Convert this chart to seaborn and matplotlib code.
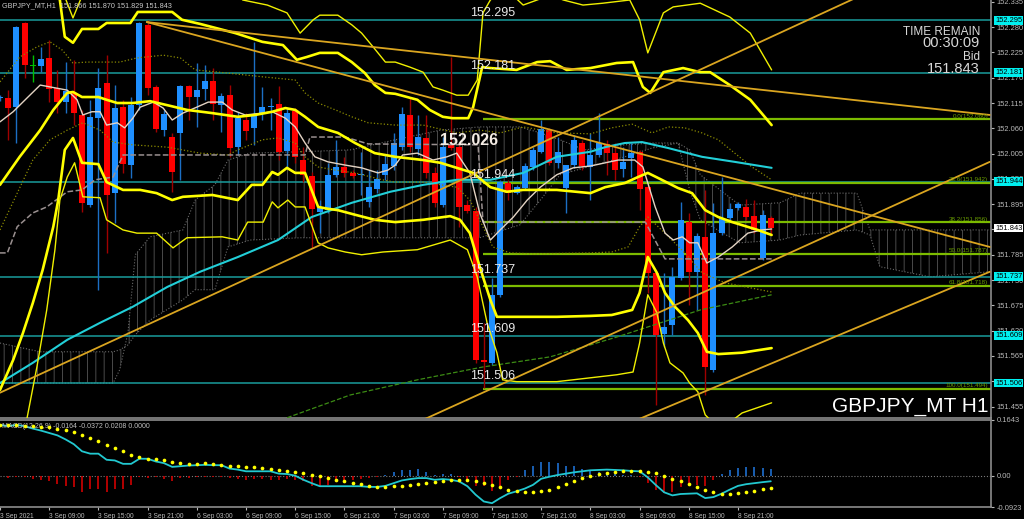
import numpy as np
import matplotlib
matplotlib.use("Agg")
import matplotlib.pyplot as plt
import matplotlib.transforms as mtrans
import seaborn as sns

# %% data ---------------------------------------------------------------
# H1 candles, bar 0 = 3 Sep 03:00 ... bar 94 = 9 Sep 01:00
bar_open = [152.126, 152.126, 152.106, 152.289, 152.196, 152.196, 152.213, 152.148, 152.117, 152.137,
            152.089, 151.893, 152.082, 152.159, 151.919, 152.106, 151.980, 152.111, 152.285, 152.150,
            152.056, 152.041, 152.050, 152.152, 152.128, 152.146, 152.163, 152.111, 152.132, 152.019,
            152.078, 152.061, 152.093, 152.106, 152.113, 152.011, 152.098, 151.991, 151.956, 151.878,
            151.882, 151.959, 151.976, 151.963, 151.959, 151.900, 151.928, 151.959, 151.978, 152.019,
            152.089, 152.015, 152.039, 151.963, 151.893, 152.024, 152.019, 151.893, 151.880, 151.556,
            151.550, 151.698, 151.941, 151.919, 151.930, 151.976, 152.009, 152.056, 151.985, 151.930,
            151.980, 152.028, 151.976, 152.002, 152.026, 152.006, 151.972, 151.996, 152.009, 151.932,
            151.746, 151.613, 151.632, 151.735, 151.856, 151.748, 151.824, 151.535, 151.832, 151.865,
            151.887, 151.889, 151.869, 151.778, 151.866]
bar_high = [152.132, 152.143, 152.282, 152.291, 152.219, 152.237, 152.252, 152.187, 152.204, 152.209,
            152.100, 152.122, 152.191, 152.219, 152.154, 152.122, 152.128, 152.291, 152.296, 152.154,
            152.100, 152.050, 152.154, 152.154, 152.202, 152.198, 152.191, 152.137, 152.154, 152.096,
            152.093, 152.248, 152.150, 152.126, 152.152, 152.104, 152.104, 152.019, 151.965, 151.904,
            151.985, 152.035, 151.998, 151.969, 152.009, 151.969, 151.969, 152.002, 152.050, 152.106,
            152.128, 152.089, 152.089, 151.976, 152.041, 152.215, 152.028, 151.904, 151.889, 151.637,
            151.735, 151.948, 151.948, 151.937, 151.985, 152.019, 152.078, 152.061, 152.041, 151.980,
            152.046, 152.035, 152.050, 152.093, 152.035, 152.028, 152.019, 152.028, 152.013, 151.937,
            151.748, 151.746, 151.759, 151.900, 151.876, 151.832, 151.926, 151.898, 151.954, 151.898,
            151.900, 151.906, 151.904, 151.882, 151.870]
bar_low = [152.120, 152.035, 152.028, 152.169, 152.161, 152.182, 152.117, 152.093, 152.093, 152.067,
           151.878, 151.889, 151.709, 151.789, 151.854, 151.963, 151.952, 152.100, 152.132, 152.052,
           152.043, 151.922, 151.948, 152.078, 152.063, 152.122, 152.078, 152.052, 151.998, 152.002,
           152.035, 152.024, 152.078, 152.056, 151.991, 151.976, 151.985, 151.943, 151.800, 151.832,
           151.876, 151.954, 151.954, 151.952, 151.915, 151.889, 151.919, 151.948, 151.969, 152.013,
           152.009, 152.002, 151.952, 151.889, 151.889, 152.013, 151.846, 151.876, 151.550, 151.496,
           151.546, 151.693, 151.904, 151.917, 151.926, 151.969, 152.006, 151.980, 151.974, 151.876,
           151.974, 151.969, 151.904, 151.998, 151.959, 151.948, 151.954, 151.954, 151.882, 151.702,
           151.459, 151.585, 151.611, 151.730, 151.676, 151.665, 151.480, 151.530, 151.828, 151.861,
           151.882, 151.861, 151.832, 151.774, 151.829]
bar_close = [152.128, 152.104, 152.280, 152.198, 152.196, 152.211, 152.146, 152.117, 152.141, 152.093,
             151.898, 152.085, 152.148, 151.915, 152.104, 151.982, 152.111, 152.289, 152.148, 152.059,
             152.091, 151.965, 152.152, 152.128, 152.143, 152.163, 152.113, 152.130, 152.017, 152.082,
             152.054, 152.089, 152.106, 152.109, 152.009, 152.093, 151.998, 151.959, 151.885, 151.887,
             151.959, 151.976, 151.963, 151.956, 151.961, 151.932, 151.950, 151.982, 152.028, 152.091,
             152.019, 152.041, 151.963, 151.898, 152.019, 152.017, 151.889, 151.880, 151.556, 151.552,
             151.698, 151.943, 151.919, 151.932, 151.978, 152.013, 152.059, 151.985, 152.009, 151.980,
             152.035, 151.978, 152.002, 152.028, 152.006, 151.969, 151.987, 152.006, 151.928, 151.746,
             151.611, 151.628, 151.737, 151.861, 151.748, 151.826, 151.541, 151.832, 151.865, 151.885,
             151.896, 151.867, 151.839, 151.872, 151.843]

time_ticks = [0, 6, 12, 18, 24, 30, 36, 42, 48, 54, 60, 66, 72, 78, 84, 90]
time_labels = ["3 Sep 2021", "3 Sep 09:00", "3 Sep 15:00", "3 Sep 21:00", "6 Sep 03:00", "6 Sep 09:00",
               "6 Sep 15:00", "6 Sep 21:00", "7 Sep 03:00", "7 Sep 09:00", "7 Sep 15:00", "7 Sep 21:00",
               "8 Sep 03:00", "8 Sep 09:00", "8 Sep 15:00", "8 Sep 21:00"]
price_ticks = [152.335, 152.280, 152.225, 152.170, 152.115, 152.060, 152.005, 151.950, 151.895,
               151.840, 151.785, 151.730, 151.675, 151.620, 151.565, 151.510, 151.455]

# bollinger bands (read as polylines: bar position, price)
bb3_up_x = [6.7, 7.9, 8.9, 9.8, 11.0, 19.5, 28.0, 29.6, 32.6, 35.0, 36.6, 38.2, 39.0, 41.2, 42.9,
            44.1, 45.5, 47.0, 48.2, 50.0, 51.6, 52.8, 54.0, 55.7, 57.1, 58.2, 58.9, 59.8, 61.6, 63.8,
            65.5, 67.1, 68.7, 71.1, 73.5, 76.8, 78.0, 79.0, 80.9, 82.1, 85.4, 89.0, 91.5, 94.1]
bb3_up_y = [152.383, 152.346, 152.300, 152.339, 152.393, 152.426, 152.372, 152.339, 152.328, 152.311,
            152.267, 152.296, 152.306, 152.306, 152.285, 152.267, 152.237, 152.204, 152.204, 152.193,
            152.182, 152.150, 152.143, 152.132, 152.132, 152.165, 152.311, 152.339, 152.365, 152.328,
            152.339, 152.350, 152.339, 152.328, 152.332, 152.339, 152.296, 152.224, 152.311, 152.324,
            152.332, 152.302, 152.267, 152.187]
bb2_up_x = [6.1, 7.3, 7.9, 8.9, 10.0, 12.0, 13.0, 15.9, 16.8, 21.0, 22.2, 24.4, 28.7, 32.0, 34.5,
            36.2, 37.4, 39.0, 41.2, 42.9, 44.5, 45.7, 47.0, 48.2, 50.9, 52.4, 54.0, 55.2, 57.1, 57.7,
            58.8, 59.8, 63.0, 65.5, 67.1, 69.1, 72.0, 75.2, 77.2, 78.4, 79.3, 80.9, 83.3, 85.4, 86.6,
            89.0, 91.5, 94.1]
bb2_up_y = [152.383, 152.339, 152.259, 152.246, 152.276, 152.276, 152.289, 152.289, 152.313, 152.313,
            152.296, 152.287, 152.267, 152.248, 152.241, 152.209, 152.215, 152.224, 152.224, 152.204,
            152.180, 152.154, 152.137, 152.135, 152.122, 152.100, 152.085, 152.082, 152.082, 152.106,
            152.193, 152.191, 152.187, 152.204, 152.206, 152.187, 152.191, 152.202, 152.204, 152.150,
            152.137, 152.182, 152.191, 152.182, 152.182, 152.154, 152.122, 152.067]
bb_mid_x = [0, 2.4, 4.9, 6.5, 8.2, 8.9, 10.0, 12.0, 13.0, 14.3, 16.2, 18.3, 20.7, 22.8, 25.9, 29.0,
            31.1, 33.2, 34.8, 36.0, 37.2, 38.8, 41.2, 43.3, 45.7, 48.2, 51.6, 53.7, 55.7, 57.7, 59.8,
            61.8, 63.8, 67.9, 72.0, 73.8, 76.2, 77.8, 79.0, 80.7, 82.7, 84.4, 86.0, 87.6, 89.3, 92.4, 94.1]
bb_mid_y = [151.937, 151.998, 152.056, 152.100, 152.137, 152.139, 152.128, 152.128, 152.122, 152.115,
            152.115, 152.119, 152.109, 152.100, 152.093, 152.085, 152.089, 152.096, 152.104, 152.100,
            152.085, 152.063, 152.050, 152.028, 152.006, 151.998, 151.991, 151.985, 151.974, 151.963,
            151.932, 151.922, 151.926, 151.926, 151.919, 151.932, 151.941, 151.954, 151.963, 151.948,
            151.930, 151.919, 151.882, 151.867, 151.856, 151.839, 151.828]
bb2_dn_x = [0, 1.6, 2.8, 4.0, 5.2, 6.5, 7.1, 7.9, 8.9, 10.0, 12.0, 13.0, 15.0, 17.1, 19.1, 21.0,
            22.3, 25.9, 29.0, 30.7, 32.0, 33.2, 33.9, 35.0, 36.0, 37.2, 38.8, 40.0, 41.2, 43.3, 45.7,
            48.2, 51.6, 54.9, 56.1, 57.3, 58.5, 59.8, 60.6, 63.8, 67.9, 72.0, 74.6, 77.1, 78.0, 79.0,
            80.1, 81.1, 82.3, 83.9, 85.1, 86.2, 87.6, 90.5, 94.1]
bb2_dn_y = [151.491, 151.556, 151.615, 151.680, 151.752, 151.846, 151.904, 152.013, 152.039, 151.985,
            151.982, 151.943, 151.926, 151.926, 151.919, 151.904, 151.911, 151.915, 151.904, 151.937,
            151.937, 151.965, 151.959, 151.974, 151.963, 151.963, 151.889, 151.885, 151.882, 151.872,
            151.861, 151.856, 151.861, 151.869, 151.861, 151.832, 151.759, 151.687, 151.650, 151.650,
            151.650, 151.652, 151.654, 151.665, 151.702, 151.780, 151.746, 151.702, 151.672, 151.643,
            151.615, 151.574, 151.569, 151.572, 151.582]
bb3_dn_x = [3.3, 4.5, 5.7, 6.7, 7.3, 8.2, 9.1, 10.1, 12.2, 13.0, 15.0, 16.7, 19.1, 21.1, 22.8, 27.1,
            29.0, 30.2, 32.1, 33.2, 33.9, 35.1, 36.0, 37.2, 38.8, 40.0, 42.1, 44.1, 46.7, 50.9, 54.9,
            57.0, 58.2, 59.4, 60.6, 61.3, 63.0, 67.9, 75.2, 77.2, 78.0, 79.0, 80.1, 80.9, 81.7, 83.3,
            84.1, 85.1, 86.0, 87.8, 90.5, 94.1]
bb3_dn_y = [151.430, 151.541, 151.665, 151.796, 151.904, 151.954, 151.985, 151.911, 151.909, 151.861,
            151.839, 151.832, 151.832, 151.800, 151.822, 151.824, 151.817, 151.856, 151.856, 151.900,
            151.887, 151.904, 151.889, 151.889, 151.811, 151.800, 151.791, 151.785, 151.791, 151.796,
            151.817, 151.796, 151.737, 151.637, 151.572, 151.513, 151.509, 151.509, 151.524, 151.530,
            151.593, 151.698, 151.659, 151.593, 151.550, 151.528, 151.506, 151.487, 151.437, 151.404,
            151.441, 151.463]

# moving averages
ma_fast_x = [0, 1.6, 3.3, 4.9, 6.1, 8.2, 9.4, 10.1, 11.2, 12.2, 13.0, 14.3, 15.2, 16.2, 17.1, 18.7,
             19.9, 21.0, 22.3, 24.0, 25.4, 27.1, 28.3, 29.9, 32.0, 33.2, 34.8, 36.0, 37.2, 38.4, 40.0,
             42.1, 44.1, 46.1, 47.3, 48.2, 49.1, 50.9, 52.8, 54.5, 55.7, 57.3, 58.5, 59.8, 61.0, 62.6,
             64.3, 65.9, 67.9, 69.9, 72.0, 75.4, 77.4, 78.4, 79.9, 81.1, 82.1, 83.2, 84.1, 85.1, 86.2,
             87.6, 89.3, 91.2, 92.9, 94.1]
ma_fast_y = [152.074, 152.096, 152.126, 152.154, 152.150, 152.143, 152.122, 152.089, 152.096, 152.096,
             152.067, 152.072, 152.061, 152.082, 152.106, 152.117, 152.104, 152.078, 152.093, 152.106,
             152.117, 152.117, 152.100, 152.089, 152.093, 152.096, 152.082, 152.063, 152.028, 151.998,
             151.987, 151.980, 151.974, 151.963, 151.969, 151.980, 152.002, 152.006, 151.991, 151.998,
             152.006, 151.963, 151.876, 151.817, 151.839, 151.867, 151.904, 151.932, 151.959, 151.974,
             151.978, 151.991, 151.991, 151.976, 151.889, 151.832, 151.817, 151.824, 151.811, 151.811,
             151.767, 151.780, 151.802, 151.832, 151.839, 151.841]
ma_slow_x = [0, 4.0, 8.2, 12.2, 16.2, 20.4, 24.4, 29.0, 33.9, 38.0, 42.9, 47.6, 51.6, 55.7, 59.8,
             63.8, 67.9, 72.0, 73.8, 76.2, 78.3, 81.5, 85.6, 89.6, 94.1]
ma_slow_y = [151.506, 151.550, 151.600, 151.637, 151.672, 151.715, 151.748, 151.780, 151.817, 151.867,
             151.898, 151.922, 151.937, 151.948, 151.948, 151.963, 151.998, 152.009, 152.019, 152.028,
             152.030, 152.017, 151.998, 151.987, 151.974]
ma_long_x = [24.4, 36.0, 42.7, 50.9, 58.9, 67.1, 75.2, 85.4, 94.1]
ma_long_y = [151.361, 151.437, 151.480, 151.513, 151.541, 151.563, 151.606, 151.665, 151.698]

# envelopes (dotted olive)
env_up_x = [0, 2.4, 4.5, 6.1, 7.6, 8.9, 10.6, 14.6, 16.7, 19.9, 22.0, 23.8, 27.8, 32.0, 36.0, 37.2,
            38.8, 40.9, 42.9, 44.9, 48.2, 51.6, 55.7, 58.5, 61.0, 63.8, 67.9, 72.0, 74.6, 77.1, 79.5,
            81.5, 83.5, 85.6, 87.6, 89.6, 91.7, 94.1]
env_up_y = [152.161, 152.215, 152.237, 152.248, 152.230, 152.202, 152.204, 152.204, 152.213, 152.219,
            152.213, 152.187, 152.180, 152.172, 152.165, 152.137, 152.115, 152.100, 152.085, 152.072,
            152.067, 152.067, 152.050, 152.056, 152.050, 152.063, 152.050, 152.048, 152.061, 152.069,
            152.050, 152.063, 152.061, 152.050, 152.035, 152.006, 151.976, 151.948]
env_dn_x = [0, 2.1, 4.0, 6.1, 8.2, 10.1, 12.2, 13.8, 16.2, 20.4, 24.4, 27.8, 29.0, 32.0, 33.9, 36.0,
            37.2, 38.8, 40.9, 43.3, 46.6, 48.2, 51.6, 55.7, 57.3, 58.9, 60.1, 62.2, 65.0, 72.0, 74.6,
            76.6, 78.0, 79.0, 81.1, 83.5, 85.6, 88.4, 94.1]
env_dn_y = [151.839, 151.919, 151.991, 152.035, 152.056, 152.072, 152.056, 152.030, 152.024, 152.019,
            152.006, 152.002, 152.013, 152.035, 152.039, 152.028, 151.998, 151.976, 151.969, 151.963,
            151.948, 151.943, 151.943, 151.932, 151.904, 151.846, 151.802, 151.789, 151.787, 151.789,
            151.791, 151.802, 151.846, 151.867, 151.832, 151.789, 151.746, 151.724, 151.704]

# ichimoku kijun + cloud
kijun_x = [0, 0.9, 2.1, 4.0, 5.7, 8.2, 10.0, 11.6, 13.8, 15.0, 37.2, 37.8, 42.1, 44.9, 58.3, 58.9,
           78.7, 81.1, 94.1]
kijun_y = [151.789, 151.789, 151.846, 151.876, 151.889, 151.922, 151.926, 151.948, 151.954, 152.002,
           152.002, 152.041, 152.041, 152.026, 152.024, 151.856, 151.856, 151.776, 151.776]
cloud_x = [0, 4.9, 13.8, 14.6, 15.6, 16.5, 18.3, 22.3, 23.8, 26.2, 27.8, 30.5, 36.6, 42.7, 48.2, 53.7,
           58.5, 63.4, 65.9, 68.3, 71.3, 76.2, 79.5, 82.7, 84.1, 85.4, 90.2, 95.1, 97.6, 104.5, 106.1,
           107.3, 113.4, 120.7]
span_a = [151.506, 151.506, 151.506, 151.535, 151.615, 151.785, 151.824, 151.839, 151.904, 151.937,
          151.991, 152.006, 152.009, 152.013, 152.035, 152.056, 152.063, 152.063, 152.050, 152.035,
          152.013, 152.024, 152.028, 152.028, 152.013, 151.959, 151.893, 151.898, 151.919, 151.919,
          151.839, 151.839, 151.839, 151.839]
span_b = [151.593, 151.574, 151.574, 151.578, 151.589, 151.611, 151.643, 151.687, 151.709, 151.709,
          151.802, 151.817, 151.822, 151.822, 151.822, 151.822, 151.822, 151.850, 151.904, 151.959,
          151.974, 151.998, 152.017, 152.028, 151.926, 151.861, 151.811, 151.817, 151.828, 151.839,
          151.828, 151.759, 151.737, 151.748]

# drawn objects
trend_lines = [([17.9, 120.7], [152.291, 152.089]),
               ([17.9, 120.7], [152.291, 151.802]),
               ([0.0, 120.7], [151.485, 152.478]),
               ([51.6, 120.7], [151.426, 151.987]),
               ([77.7, 120.7], [151.426, 151.748])]
levels = [152.295, 152.181, 151.944, 151.737, 151.609, 151.506]
fib_prices = [152.080, 151.942, 151.856, 151.787, 151.718, 151.494]
fib_labels = ["0.0(152.080)", "23.6(151.942)", "38.2(151.856)", "50.0(151.787)",
              "61.8(151.718)", "100.0(151.494)"]
fib_start = 58.9
bid = 151.843

# MACD(12,26,9)
macd_main = [0.150, 0.146, 0.150, 0.146, 0.139, 0.133, 0.126, 0.119, 0.107, 0.093,
             0.072, 0.065, 0.065, 0.047, 0.045, 0.035, 0.035, 0.050, 0.050, 0.042,
             0.037, 0.026, 0.028, 0.030, 0.031, 0.032, 0.031, 0.031, 0.021, 0.018,
             0.013, 0.013, 0.013, 0.013, 0.006, 0.005, 0.000, -0.012, -0.022, -0.031,
             -0.031, -0.031, -0.031, -0.031, -0.031, -0.033, -0.033, -0.030, -0.022, -0.014,
             -0.010, -0.007, -0.007, -0.012, -0.010, -0.012, -0.017, -0.031, -0.056, -0.076,
             -0.081, -0.066, -0.053, -0.046, -0.038, -0.027, -0.009, -0.003, 0.002, 0.006,
             0.010, 0.013, 0.016, 0.017, 0.018, 0.017, 0.016, 0.014, 0.013, -0.005,
             -0.028, -0.049, -0.058, -0.054, -0.053, -0.052, -0.066, -0.063, -0.053, -0.041,
             -0.030, -0.025, -0.022, -0.019, -0.0164]
macd_signal = [0.150, 0.150, 0.150, 0.147, 0.146, 0.144, 0.143, 0.139, 0.134, 0.129,
               0.121, 0.111, 0.103, 0.091, 0.083, 0.072, 0.062, 0.055, 0.050, 0.048,
               0.045, 0.040, 0.038, 0.036, 0.036, 0.037, 0.034, 0.032, 0.030, 0.029,
               0.027, 0.025, 0.023, 0.021, 0.018, 0.015, 0.011, 0.007, 0.001, -0.002,
               -0.007, -0.012, -0.017, -0.022, -0.025, -0.029, -0.032, -0.032, -0.030, -0.029,
               -0.027, -0.024, -0.022, -0.019, -0.017, -0.014, -0.012, -0.014, -0.017, -0.022,
               -0.028, -0.034, -0.041, -0.046, -0.048, -0.049, -0.046, -0.042, -0.033, -0.024,
               -0.016, -0.008, -0.002, 0.005, 0.008, 0.011, 0.013, 0.015, 0.015, 0.011,
               0.007, 0.000, -0.009, -0.017, -0.025, -0.032, -0.041, -0.049, -0.054, -0.054,
               -0.051, -0.047, -0.044, -0.039, -0.0372]
macd_hist = [-0.002, -0.007, -0.005, -0.005, -0.009, -0.012, -0.017, -0.025, -0.031, -0.034,
             -0.048, -0.038, -0.038, -0.048, -0.038, -0.038, -0.028, -0.005, -0.007, -0.005,
             -0.009, -0.015, -0.007, -0.007, -0.005, -0.003, -0.003, -0.003, -0.007, -0.009,
             -0.013, -0.011, -0.009, -0.013, -0.013, -0.009, -0.012, -0.017, -0.031, -0.031,
             -0.027, -0.017, -0.012, -0.013, -0.009, -0.007, -0.003, 0.003, 0.011, 0.018,
             0.018, 0.020, 0.011, 0.003, 0.005, 0.005, -0.005, -0.009, -0.031, -0.031,
             -0.046, -0.031, -0.012, -0.003, 0.016, 0.029, 0.040, 0.040, 0.037, 0.030,
             0.028, 0.021, 0.015, 0.011, 0.008, 0.005, 0.003, 0.001, -0.005, -0.022,
             -0.041, -0.051, -0.048, -0.034, -0.031, -0.027, -0.029, -0.012, 0.005, 0.016,
             0.023, 0.025, 0.025, 0.023, 0.0208]

# %% style ---------------------------------------------------------------
sns.set_theme(style="dark", rc={"axes.facecolor": "black", "figure.facecolor": "black",
                                "axes.grid": False, "axes.edgecolor": "#8c8c8c"})
plt.rcParams["font.family"] = ["Liberation Sans", "DejaVu Sans"]
plt.rcParams["hatch.linewidth"] = 0.7

fig = plt.figure(figsize=(10.24, 5.19), dpi=100)
ax = fig.add_axes([0, (519 - 418) / 519, 991 / 1024, 418 / 519])
ax2 = fig.add_axes([0, 12 / 519, 991 / 1024, 87 / 519])
XMAX = 991 / 8.2


def line(a, xs, ys, color, lw=1.0, ls="-", z=5):
    sns.lineplot(x=xs, y=ys, ax=a, color=color, linewidth=lw, linestyle=ls,
                 estimator=None, sort=False, legend=False, zorder=z)


# %% main panel ----------------------------------------------------------
# ichimoku cloud
ax.fill_between(cloud_x, span_a, span_b, facecolor="none", hatch="||",
                edgecolor="#4a4a4a", linewidth=0, zorder=1)
line(ax, cloud_x, span_a, "#6a6a6a", 0.8, ":", 1)
line(ax, cloud_x, span_b, "#6a6a6a", 0.8, ":", 1)

# horizontal price levels
for lv in levels:
    ax.axhline(lv, color="#1a9c9c", lw=1.1, zorder=2)
for fp in fib_prices:
    ax.hlines(fp, fib_start, XMAX, color="#7cbb00", lw=1.6, zorder=2)

# candles
o = np.array(bar_open); h = np.array(bar_high); l = np.array(bar_low); c = np.array(bar_close)
idx = np.arange(len(o))
body_col = np.where(c > o, "#1e8fff", np.where(c < o, "#ff0000", "#00c000"))
wick_col = np.where(c > o, "#1c6fc4", np.where(c < o, "#a00000", "#00c000"))
ax.vlines(idx, l, h, colors=wick_col, lw=1.0, zorder=3)
ax.bar(idx, np.maximum(np.abs(c - o), 0.0015), bottom=np.minimum(o, c), width=0.72,
       color=body_col, linewidth=0, zorder=4)

# indicators
line(ax, env_up_x, env_up_y, "#8a8a00", 0.9, ":", 5)
line(ax, env_dn_x, env_dn_y, "#8a8a00", 0.9, ":", 5)
line(ax, ma_long_x, ma_long_y, "#3c8c14", 0.9, "--", 5)
line(ax, kijun_x, kijun_y, "#9a9090", 1.1, "--", 5)
line(ax, ma_slow_x, ma_slow_y, "#22cfd8", 1.5, "-", 6)
line(ax, ma_fast_x, ma_fast_y, "#e4d4c4", 1.0, "-", 6)
line(ax, bb3_up_x, bb3_up_y, "#f0f000", 1.0, "-", 6)
line(ax, bb3_dn_x, bb3_dn_y, "#f0f000", 1.0, "-", 6)
line(ax, bb2_up_x, bb2_up_y, "#ffff00", 1.9, "-", 6)
line(ax, bb2_dn_x, bb2_dn_y, "#ffff00", 1.9, "-", 6)
line(ax, bb_mid_x, bb_mid_y, "#ffff00", 1.9, "-", 6)
for tx, ty in trend_lines:
    line(ax, tx, ty, "#daa520", 1.3, "-", 7)

# level text
for lv in levels:
    ax.text(57.3, lv + 0.0155, f"{lv:.3f}", color="#e8e8e8", fontsize=9, ha="left",
            va="center", zorder=9)
ax.text(53.6, 152.026 + 0.007, "152.026", color="#f4ece4", fontsize=11.5, fontweight="bold",
        ha="left", va="center", zorder=9)
for fp, fl in zip(fib_prices, fib_labels):
    ax.text(120.5, fp + 0.0065, fl, color="#6a9e00", fontsize=4.5, ha="right", va="center", zorder=9)

ax.set_xlim(0, XMAX)
ax.set_ylim(151.430, 152.339)
ax.set_xticks([])
ax.yaxis.tick_right()
ax.set_yticks(price_ticks)
# 151.840 sits completely under the bid box, so its label is left blank
ax.set_yticklabels(["" if abs(t - 151.840) < 1e-6 else f"{t:.3f}" for t in price_ticks])
ax.tick_params(axis="y", colors="#b8b8b8", labelsize=5.4, length=2.5, pad=1.5, right=True, width=0.8)
for s in ["top", "left"]:
    ax.spines[s].set_visible(False)
for s in ["right", "bottom"]:
    ax.spines[s].set_color("#8c8c8c")
    ax.spines[s].set_linewidth(1.2)

trans = mtrans.blended_transform_factory(ax.transAxes, ax.transData)
for lv in levels:
    ax.text(1.004, lv, f"{lv:.3f}", transform=trans, ha="left", va="center", fontsize=5.4,
            color="black", clip_on=False, zorder=12,
            bbox=dict(boxstyle="square,pad=0.12", fc="#00f0f0", ec="none"))
ax.text(1.004, bid, f"{bid:.3f}", transform=trans, ha="left", va="center", fontsize=5.4,
        color="black", clip_on=False, zorder=12,
        bbox=dict(boxstyle="square,pad=0.12", fc="white", ec="none"))

# %% MACD panel ----------------------------------------------------------
hist = np.array(macd_hist)
ax2.axhline(0, color="#7a7a7a", lw=0.8, ls=":", zorder=1)
ax2.vlines(idx, 0, hist, colors=np.where(hist >= 0, "#1e6fd0", "#d00000"), lw=1.2, zorder=2)
line(ax2, idx, macd_main, "#22c8d0", 1.3, "-", 3)
sns.scatterplot(x=idx, y=macd_signal, ax=ax2, color="#ffff00", s=7, linewidth=0, zorder=4,
                legend=False)
ax2.set_xlim(0, XMAX)
ax2.set_ylim(-0.0923, 0.1643)
ax2.yaxis.tick_right()
ax2.set_yticks([0.1643, 0.0, -0.0923])
ax2.set_yticklabels(["0.1643", "0.00", "-0.0923"])
ax2.tick_params(axis="y", colors="#b8b8b8", labelsize=5.4, length=2.5, pad=1.5, width=0.8)
ax2.set_xticks(time_ticks)
ax2.set_xticklabels(time_labels)
ax2.tick_params(axis="x", colors="#b8b8b8", labelsize=4.8, length=2.5, pad=1.5, bottom=True, width=0.8)
for lab in ax2.get_xticklabels():
    lab.set_ha("left")
ax2.spines["left"].set_visible(False)
for s in ["top", "right", "bottom"]:
    ax2.spines[s].set_color("#8c8c8c")
    ax2.spines[s].set_linewidth(1.2)
ax2.set_xlabel("")
ax2.set_ylabel("")
ax.set_xlabel("")
ax.set_ylabel("")
ax2.text(0.002, 0.92, "MACD(12,26,9) -0.0164 -0.0372 0.0208 0.0000", transform=ax2.transAxes,
         color="#c0c0c0", fontsize=5, ha="left", va="center")

# %% overlay text --------------------------------------------------------
fig.text(2 / 1024, 1 - 6 / 519, "GBPJPY_MT,H1  151.866 151.870 151.829 151.843", color="#c8c8c8",
         fontsize=5.2, ha="left", va="center")
fig.text(980 / 1024, 1 - 32 / 519, "TIME REMAIN", color="#d8d8d8", fontsize=8.5, ha="right", va="center")
fig.text(980 / 1024, 1 - 43 / 519, "00:30:09", color="#d8d8d8", fontsize=10.5, ha="right", va="center")
fig.text(980 / 1024, 1 - 57 / 519, "Bid", color="#d8d8d8", fontsize=8.5, ha="right", va="center")
fig.text(980 / 1024, 1 - 69 / 519, "151.843", color="#d8d8d8", fontsize=10.5, ha="right", va="center")
fig.text(988 / 1024, 1 - 407 / 519, "GBPJPY_MT H1", color="white", fontsize=15, ha="right", va="center")

fig.savefig("out.png", dpi=100, facecolor="black")
